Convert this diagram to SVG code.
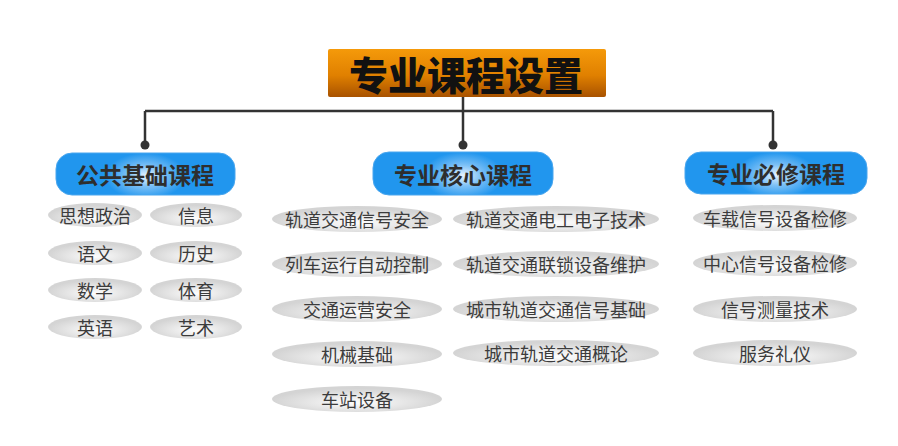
<svg xmlns="http://www.w3.org/2000/svg" width="898" height="446" viewBox="0 0 898 446">
<defs>
<linearGradient id="gTitle" x1="0" y1="0" x2="0" y2="1">
<stop offset="0" stop-color="#f59a0a"/>
<stop offset="0.55" stop-color="#e08000"/>
<stop offset="1" stop-color="#a85200"/>
</linearGradient>
<radialGradient id="gHead" cx="0.5" cy="0.55" r="0.5" fx="0.5" fy="0.55" gradientTransform="translate(0.5 0.55) scale(0.45 1.1) translate(-0.5 -0.55)">
<stop offset="0" stop-color="#e8f4ff"/>
<stop offset="0.45" stop-color="#7cc0f6"/>
<stop offset="1" stop-color="#2196ee"/>
</radialGradient>
<radialGradient id="gPill" cx="0.5" cy="0.6" r="0.5" fx="0.5" fy="0.65">
<stop offset="0" stop-color="#fdfdfd"/>
<stop offset="0.45" stop-color="#ebebeb"/>
<stop offset="1" stop-color="#d4d4d4"/>
</radialGradient>
</defs>
<style>
.title{font-family:"Noto Sans CJK SC","Noto Sans",sans-serif;font-size:39px;font-weight:900;fill:#111;}
.head{font-family:"Noto Sans CJK SC","Noto Sans",sans-serif;font-size:23px;font-weight:bold;fill:#2e2e2e;}
.item{font-family:"Noto Sans CJK SC","Noto Sans",sans-serif;font-size:18px;fill:#3c3c3c;}
.pill{fill:url(#gPill);}
.hbox{fill:url(#gHead);stroke:#4aa6ee;stroke-width:1;}
.conn{fill:none;stroke:#333;stroke-width:2.5;}
.dot{fill:#333;}
</style>
<rect width="898" height="446" fill="#fff"/>

<g id="connectors">
<path class="conn" d="M145 111 H773"/>
<path class="conn" d="M463 97 V145"/>
<path class="conn" d="M145 111 V145"/>
<path class="conn" d="M773 111 V145"/>
<circle class="dot" cx="145" cy="145" r="4.5"/>
<circle class="dot" cx="463" cy="145" r="4.5"/>
<circle class="dot" cx="773" cy="145" r="4.5"/>
</g>

<g id="title">
<rect x="328" y="49" width="278" height="48" rx="2" fill="url(#gTitle)"/>
<text class="title" x="466" y="73" text-anchor="middle" dominant-baseline="central">专业课程设置</text>
</g>

<g id="head-public">
<rect class="hbox" x="56" y="153" width="179" height="42" rx="16"/>
<text class="head" x="145" y="174" text-anchor="middle" dominant-baseline="central">公共基础课程</text>
</g>
<g id="head-core">
<rect class="hbox" x="373" y="152" width="180" height="43" rx="16"/>
<text class="head" x="463" y="173.5" text-anchor="middle" dominant-baseline="central">专业核心课程</text>
</g>
<g id="head-required">
<rect class="hbox" x="685" y="152" width="182" height="42" rx="16"/>
<text class="head" x="776" y="173" text-anchor="middle" dominant-baseline="central">专业必修课程</text>
</g>

<g id="p-sxzz"><ellipse class="pill" cx="95" cy="215" rx="47" ry="12"/><text class="item" x="95" y="215" text-anchor="middle" dominant-baseline="central">思想政治</text></g>
<g id="p-xx"><ellipse class="pill" cx="196" cy="215" rx="46" ry="12"/><text class="item" x="196" y="215" text-anchor="middle" dominant-baseline="central">信息</text></g>
<g id="p-yw"><ellipse class="pill" cx="95" cy="253" rx="47" ry="12"/><text class="item" x="95" y="253" text-anchor="middle" dominant-baseline="central">语文</text></g>
<g id="p-ls"><ellipse class="pill" cx="196" cy="253" rx="46" ry="12"/><text class="item" x="196" y="253" text-anchor="middle" dominant-baseline="central">历史</text></g>
<g id="p-sx"><ellipse class="pill" cx="95" cy="290" rx="47" ry="12"/><text class="item" x="95" y="290" text-anchor="middle" dominant-baseline="central">数学</text></g>
<g id="p-ty"><ellipse class="pill" cx="196" cy="290" rx="46" ry="12"/><text class="item" x="196" y="290" text-anchor="middle" dominant-baseline="central">体育</text></g>
<g id="p-yy"><ellipse class="pill" cx="95" cy="327" rx="47" ry="12"/><text class="item" x="95" y="327" text-anchor="middle" dominant-baseline="central">英语</text></g>
<g id="p-ys"><ellipse class="pill" cx="196" cy="327" rx="46" ry="12"/><text class="item" x="196" y="327" text-anchor="middle" dominant-baseline="central">艺术</text></g>

<g id="c-xhaq"><ellipse class="pill" cx="357" cy="219" rx="85" ry="13"/><text class="item" x="357" y="219" text-anchor="middle" dominant-baseline="central">轨道交通信号安全</text></g>
<g id="c-lcyx"><ellipse class="pill" cx="357" cy="264" rx="85" ry="13"/><text class="item" x="357" y="264" text-anchor="middle" dominant-baseline="central">列车运行自动控制</text></g>
<g id="c-jtyy"><ellipse class="pill" cx="357" cy="309" rx="85" ry="13"/><text class="item" x="357" y="309" text-anchor="middle" dominant-baseline="central">交通运营安全</text></g>
<g id="c-jxjc"><ellipse class="pill" cx="357" cy="354" rx="85" ry="13"/><text class="item" x="357" y="354" text-anchor="middle" dominant-baseline="central">机械基础</text></g>
<g id="c-czsb"><ellipse class="pill" cx="357" cy="399" rx="85" ry="13"/><text class="item" x="357" y="399" text-anchor="middle" dominant-baseline="central">车站设备</text></g>

<g id="c-dgdz"><ellipse class="pill" cx="556" cy="219" rx="103" ry="13"/><text class="item" x="556" y="219" text-anchor="middle" dominant-baseline="central">轨道交通电工电子技术</text></g>
<g id="c-lssb"><ellipse class="pill" cx="556" cy="264" rx="103" ry="13"/><text class="item" x="556" y="264" text-anchor="middle" dominant-baseline="central">轨道交通联锁设备维护</text></g>
<g id="c-xhjc"><ellipse class="pill" cx="556" cy="309" rx="103" ry="13"/><text class="item" x="556" y="309" text-anchor="middle" dominant-baseline="central">城市轨道交通信号基础</text></g>
<g id="c-gl"><ellipse class="pill" cx="556" cy="353" rx="103" ry="13"/><text class="item" x="556" y="353" text-anchor="middle" dominant-baseline="central">城市轨道交通概论</text></g>

<g id="r-czxh"><ellipse class="pill" cx="775" cy="218" rx="82" ry="13"/><text class="item" x="775" y="218" text-anchor="middle" dominant-baseline="central">车载信号设备检修</text></g>
<g id="r-zxxh"><ellipse class="pill" cx="775" cy="263" rx="82" ry="13"/><text class="item" x="775" y="263" text-anchor="middle" dominant-baseline="central">中心信号设备检修</text></g>
<g id="r-xhcl"><ellipse class="pill" cx="775" cy="309" rx="82" ry="13"/><text class="item" x="775" y="309" text-anchor="middle" dominant-baseline="central">信号测量技术</text></g>
<g id="r-fwly"><ellipse class="pill" cx="775" cy="353" rx="82" ry="13"/><text class="item" x="775" y="353" text-anchor="middle" dominant-baseline="central">服务礼仪</text></g>
</svg>
